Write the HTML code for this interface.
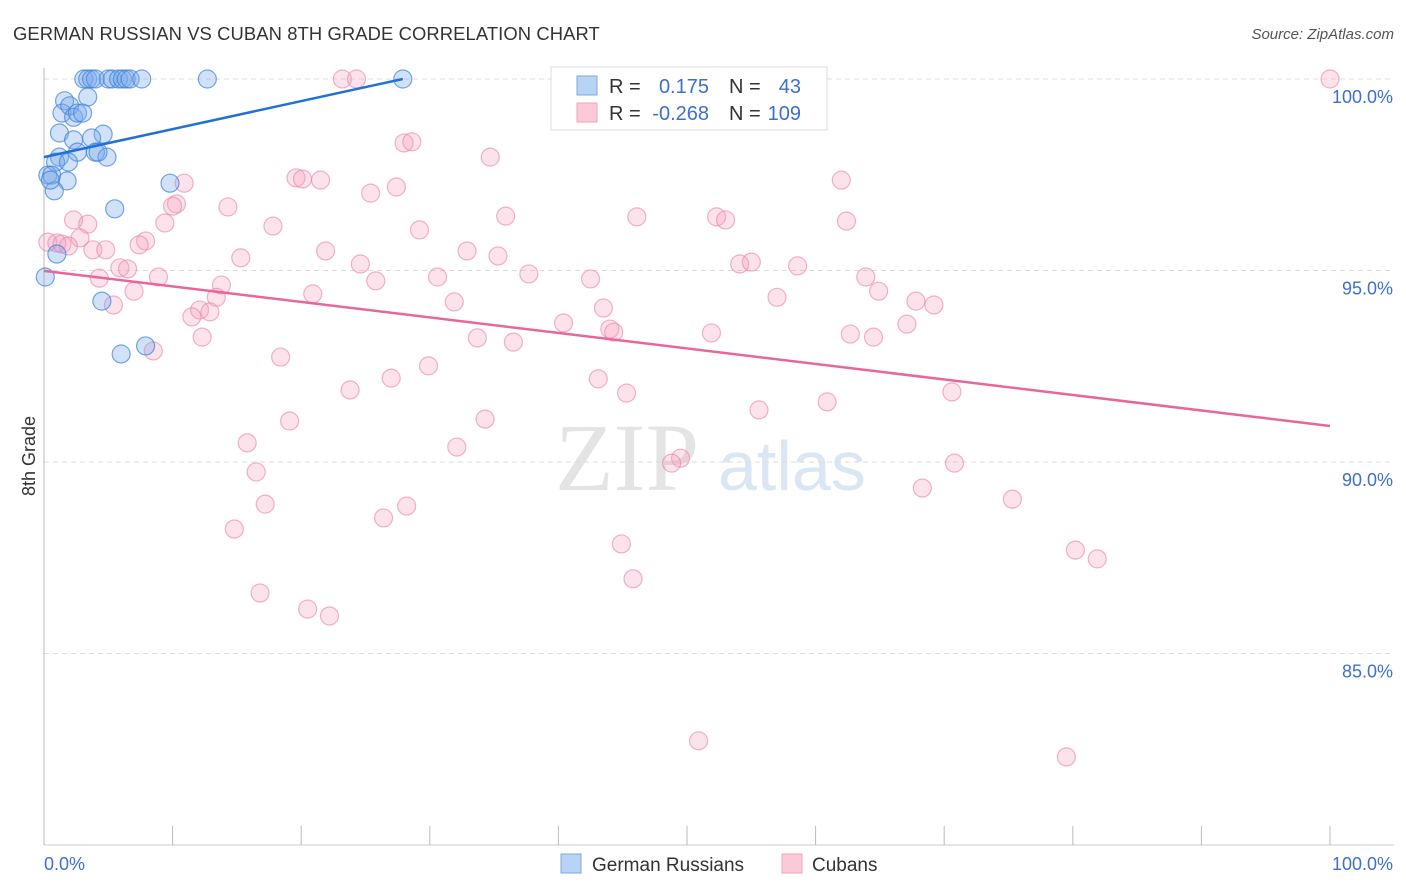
<!DOCTYPE html>
<html><head><meta charset="utf-8"><style>
body{margin:0;background:#fff;font-family:"Liberation Sans",sans-serif}
svg{display:block}
</style></head><body>
<svg id="chart" width="1406" height="892" viewBox="0 0 1406 892">
<text x="13" y="40" font-size="18.4" fill="#333" letter-spacing="0.1">GERMAN RUSSIAN VS CUBAN 8TH GRADE CORRELATION CHART</text>
<text x="1394" y="39" font-size="15" fill="#555" text-anchor="end" font-style="italic">Source: ZipAtlas.com</text>
<text x="35" y="456" font-size="18" fill="#333" text-anchor="middle" transform="rotate(-90 35 456)">8th Grade</text>
<g><text x="555" y="490" font-size="96" fill="#e4e4e4" font-family="Liberation Serif,serif">ZIP</text><text x="718" y="490" font-size="70" fill="#dbe6f5">atlas</text></g>
<g id="grid"></g><g id="axes"></g><g id="pts"></g><g id="trend"></g>
<g>
<rect x="551" y="67" width="276" height="63" fill="#fff" stroke="#ddd"/>
<rect x="577" y="76" width="20" height="19" fill="#b9d3f5" stroke="#7aaae6"/>
<rect x="577" y="103" width="20" height="19" fill="#fbc9d8" stroke="#efa5bd"/>
<g font-size="20" fill="#333"><text x="609" y="93">R =</text><text x="609" y="120">R =</text><text x="729" y="93">N =</text><text x="729" y="120">N =</text></g>
<g font-size="20" fill="#3b70d0" text-anchor="end"><text x="709" y="93">0.175</text><text x="709" y="120">-0.268</text><text x="801" y="93">43</text><text x="801" y="120">109</text></g>
</g>
<g>
<rect x="561" y="854" width="20" height="19" fill="#b9d3f5" stroke="#7aaae6"/>
<text x="592" y="871" font-size="19" fill="#333">German Russians</text>
<rect x="782" y="854" width="20" height="19" fill="#fbc9d8" stroke="#efa5bd"/>
<text x="812" y="871" font-size="19" fill="#333">Cubans</text>
</g>
</svg>
<script>
const yTicks=[100,95,90,85];
const yTickLabels=["100.0%","95.0%","90.0%","85.0%"];
const xTicks=[0,10,20,30,40,50,60,70,80,90,100];
const xEndLabels=["0.0%","100.0%"];
const blueX=[3.1,3.4,3.7,4.0,5.0,5.3,5.8,6.1,6.4,6.7,7.6,12.7,27.9,1.6,1.4,2.0,3.4,2.3,2.6,3.0,1.2,2.3,4.6,3.7,2.6,4.0,4.9,1.2,0.9,1.9,0.3,0.6,1.8,0.8,9.8,5.5,1.0,0.1,4.5,7.9,6.0,4.2,0.5];
const blueY=[100,100,100,100,100,100,100,100,100,100,100,100,100,99.43,99.11,99.3,99.53,99.0,99.11,99.11,98.59,98.41,98.56,98.46,98.09,98.09,97.96,97.96,97.83,97.83,97.49,97.49,97.34,97.08,97.28,96.61,95.43,94.83,94.2,93.03,92.82,98.09,97.36];
const pinkX=[23.2,24.3,100,28.0,28.6,34.7,19.6,20.1,21.5,10.9,25.4,27.4,62.0,10.3,10.0,14.3,35.9,46.1,52.3,53.0,62.4,2.3,3.4,9.4,17.8,29.2,2.8,7.9,7.4,0.3,1.0,1.4,1.9,3.8,4.8,21.9,32.9,35.3,15.3,24.6,54.1,55.0,58.6,5.9,6.5,8.9,25.8,30.6,37.7,42.5,63.9,4.3,13.8,7.0,13.4,20.9,64.9,57.0,67.8,69.2,31.9,43.5,5.4,12.1,12.9,11.5,40.4,67.1,44.0,44.3,51.9,62.7,64.5,12.3,33.7,36.5,8.5,18.4,29.9,27.0,43.1,23.8,45.3,70.6,60.9,55.6,19.1,34.3,15.8,32.1,49.5,48.8,70.8,16.5,68.3,17.2,28.2,26.4,75.3,14.8,44.9,80.2,81.9,45.8,16.8,20.5,22.2,50.9,79.5];
const pinkY=[100,100,100,98.33,98.36,97.96,97.42,97.39,97.36,97.28,97.02,97.18,97.36,96.74,96.68,96.66,96.42,96.40,96.40,96.32,96.29,96.32,96.21,96.24,96.16,96.06,95.85,95.77,95.67,95.74,95.72,95.69,95.64,95.54,95.54,95.51,95.51,95.38,95.33,95.17,95.17,95.22,95.12,95.07,95.04,94.83,94.73,94.83,94.91,94.78,94.83,94.80,94.62,94.46,94.30,94.39,94.46,94.30,94.20,94.10,94.18,94.02,94.10,93.97,93.92,93.79,93.63,93.60,93.47,93.39,93.37,93.34,93.26,93.26,93.24,93.13,92.90,92.74,92.51,92.19,92.17,91.88,91.80,91.83,91.57,91.36,91.07,91.12,90.50,90.39,90.10,89.97,89.97,89.74,89.32,88.90,88.85,88.54,89.03,88.25,87.86,87.70,87.47,86.95,86.58,86.16,85.98,82.72,82.30];
const blueTrend=[0,97.96,27.9,100];
const pinkTrend=[0,94.99,100,90.94];

const NS="http://www.w3.org/2000/svg";
const X0=44,X1=1330,YT=79,YB=845;
const sx=v=>X0+(v/100)*(X1-X0);
const sy=v=>YT+(100-v)/20*(YB-YT);
function mk(tag,attrs,parent){const e=document.createElementNS(NS,tag);for(const k in attrs)e.setAttribute(k,attrs[k]);document.getElementById(parent).appendChild(e);return e;}
yTicks.forEach((t,i)=>{
 const l=mk('line',{x1:X0,x2:1394,y1:sy(t),y2:sy(t),stroke:'#ddd','stroke-dasharray':'5,4'},'grid');
 
 
 const tx=mk('text',{x:1393,y:sy(t)+24,'font-size':18,fill:'#3b70d0','text-anchor':'end'},'grid');
 tx.textContent=yTickLabels[i];
 
 
});
const ax=mk('line',{x1:X0,x2:X0,y1:68,y2:YB,stroke:'#bbb'},'axes');


const bx=mk('line',{x1:X0,x2:1394,y1:YB,y2:YB,stroke:'#ccc'},'axes');


xTicks.forEach(t=>{
 const l=mk('line',{x1:sx(t),x2:sx(t),y1:826,y2:YB,stroke:'#bbb'},'axes');
 
 
});
[[0,'start',44],[100,'end',1393]].forEach((d,i)=>{
 const tx=mk('text',{x:d[2],y:870,'font-size':18,fill:'#3b70d0','text-anchor':d[1]},'axes');
 tx.textContent=xEndLabels[i];
 
 
});
pinkX.forEach((v,i)=>{
 const c=mk('circle',{cx:sx(v),cy:sy(pinkY[i]),r:9,fill:'rgba(244,160,188,0.3)',stroke:'rgba(232,130,165,0.6)','stroke-width':1.2},'pts');
 
 
});
blueX.forEach((v,i)=>{
 const c=mk('circle',{cx:sx(v),cy:sy(blueY[i]),r:9,fill:'rgba(120,170,235,0.35)',stroke:'rgba(60,130,220,0.7)','stroke-width':1.2},'pts');
 
 
});
const tb=mk('line',{x1:sx(blueTrend[0]),y1:sy(blueTrend[1]),x2:sx(blueTrend[2]),y2:sy(blueTrend[3]),stroke:'#2070d8','stroke-width':2.5},'trend');


const tp=mk('line',{x1:sx(pinkTrend[0]),y1:sy(pinkTrend[1]),x2:sx(pinkTrend[2]),y2:sy(pinkTrend[3]),stroke:'#e8679a','stroke-width':2.5},'trend');


</script>
</body></html>
